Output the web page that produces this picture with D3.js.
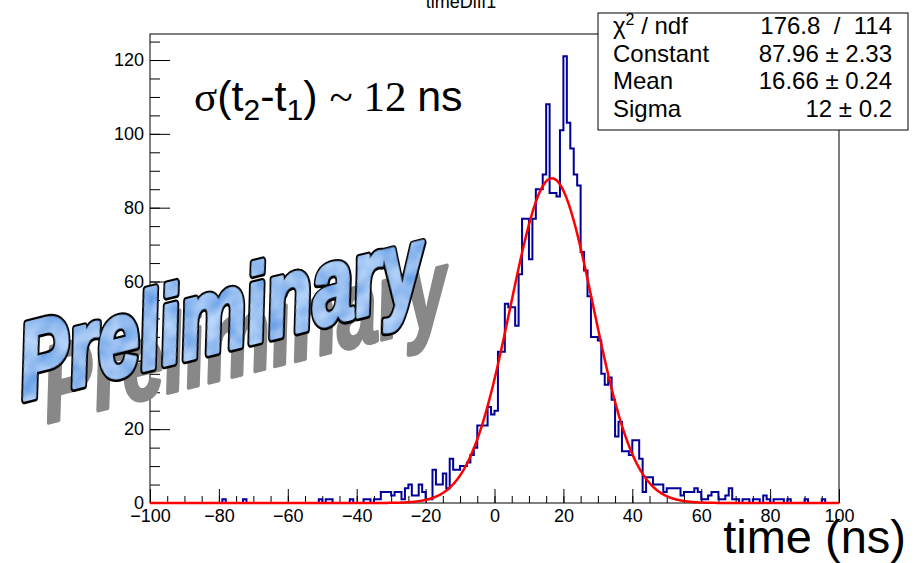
<!DOCTYPE html>
<html>
<head>
<meta charset="utf-8">
<script src="https://cdn.jsdelivr.net/npm/d3@7"></script>
<style>
	body { margin: 0; background: #fff; }
	svg { display: block; font-family: 'Liberation Sans', Arial, sans-serif; }
</style>
</head>
<body>
<script>
/* Histogram timeDiff1: counts per 1 ns bin, from -100 ns up to 100 ns. */
const binLow = -100;
const binWidth = 1;
const counts = [
	0, 0, 0, 0, 0, 0, 0, 0, 0, 0, 0, 0, 0, 0, 0, 0, 0, 0, 0, 0,          // -100 .. -81
	0, 1, 0, 0, 0, 0, 0, 1, 0, 0, 0, 0, 0, 0, 0, 0, 0, 0, 0, 0,          // -80 .. -61
	0, 0, 0, 0, 0, 0, 0, 0, 0, 1, 0, 1, 1, 0, 0, 0, 0, 0, 1, 0,          // -60 .. -41
	0, 0, 1, 1, 0, 1, 1, 3, 3, 3, 2, 3, 3, 1, 4, 5, 2, 2, 5, 3,          // -40 .. -21
	1, 1, 9, 5, 5, 8, 4, 12, 9, 9, 10, 10, 11, 13, 15, 21, 21, 21, 26, 24, // -20 .. -1
	25, 41, 41, 54, 53, 53, 48, 62, 77, 77, 66, 77, 85, 85, 89, 108, 84, 84, 83, 101, // 0 .. 19
	121, 103, 96, 89, 86, 68, 63, 56, 45, 45, 44, 35, 32, 34, 28, 18, 22, 14, 14, 13, // 20 .. 39
	17, 17, 12, 3, 7, 7, 5, 5, 5, 3, 4, 4, 4, 4, 2, 3, 3, 3, 4, 3,       // 40 .. 59
	1, 1, 2, 3, 3, 1, 1, 2, 4, 1, 1, 0, 1, 1, 0, 1, 1, 0, 2, 1,          // 60 .. 79
	0, 1, 1, 1, 0, 1, 0, 0, 0, 0, 1, 0, 0, 0, 0, 1, 0, 0, 0, 0           // 80 .. 99
];

/* Gaussian fit result, as printed in the stats box. */
const fitConstant = 87.96;
const fitMean = 16.66;
const fitSigma = 12;

/* Stats box rows. */
const statLabels = ['χ2 / ndf', 'Constant', 'Mean', 'Sigma'];
const statValues = ['176.8  /  114', '87.96 \u00b1 2.33', '16.66 \u00b1 0.24', '12 \u00b1 0.2'];

/* Axis settings. */
const xDomain = [-100, 100];
const yMax = 127.05;
const xMajorTicks = d3.range(-100, 101, 20);
const xMinorTicks = d3.range(-100, 101, 5);
const yMajorTicks = d3.range(0, 121, 20);
const yMinorTicks = d3.range(0, 126, 5);

const plotTitle = 'timeDiff1';
const xTitle = 'time (ns)';
const watermark = 'Preliminary';

/* Frame in pixels. */
const frame = { left: 150, right: 839, top: 34, bottom: 503 };

/**
 * Gaussian function of the fit.
 */
function gaus(t) {
	let z = (t - fitMean) / fitSigma;
	return fitConstant * Math.exp(-0.5 * z * z);
}

/**
 * Creates the svg element.
 */
function createSvg() {
	return d3.select('body').append('svg')
		.attr('width', 919)
		.attr('height', 563);
}

/**
 * Draws the axes and the frame.
 */
function drawAxes(svg, xScale, yScale) {
	/* Minor ticks. */
	svg.append('g')
		.attr('transform', 'translate(0,' + frame.bottom + ')')
		.call(d3.axisBottom(xScale).tickValues(xMinorTicks).tickSize(-7).tickFormat(''))
		.call(g => g.select('.domain').remove());
	svg.append('g')
		.attr('transform', 'translate(' + frame.left + ',0)')
		.call(d3.axisLeft(yScale).tickValues(yMinorTicks).tickSize(-10).tickFormat(''))
		.call(g => g.select('.domain').remove());

	/* Major ticks with labels. */
	svg.append('g')
		.attr('class', 'x-axis')
		.attr('transform', 'translate(0,' + frame.bottom + ')')
		.call(d3.axisBottom(xScale).tickValues(xMajorTicks).tickSize(-14).tickPadding(6)
			.tickFormat(d3.format('d')))
		.call(g => g.select('.domain').remove());
	svg.append('g')
		.attr('class', 'y-axis')
		.attr('transform', 'translate(' + frame.left + ',0)')
		.call(d3.axisLeft(yScale).tickValues(yMajorTicks).tickSize(-20).tickPadding(6)
			.tickFormat(d3.format('d')))
		.call(g => g.select('.domain').remove());

	svg.selectAll('.tick line').attr('stroke', '#000');
	svg.selectAll('.x-axis text, .y-axis text')
		.attr('font-family', "'Liberation Sans', Arial, sans-serif")
		.attr('font-size', 18)
		.attr('fill', '#000');

	/* Frame. */
	svg.append('rect')
		.attr('x', frame.left)
		.attr('y', frame.top)
		.attr('width', frame.right - frame.left)
		.attr('height', frame.bottom - frame.top)
		.attr('fill', 'none')
		.attr('stroke', '#000')
		.attr('stroke-width', 1);
}

/**
 * Draws the histogram and the fitted gaussian.
 */
function drawHistogram(svg, xScale, yScale) {
	let points = counts.map(function(count, index) {
		return [xScale(binLow + index * binWidth), yScale(count)];
	});
	points.push([xScale(binLow + counts.length * binWidth), yScale(counts[counts.length - 1])]);

	svg.append('path')
		.attr('d', d3.line().curve(d3.curveStepAfter)(points))
		.attr('fill', 'none')
		.attr('stroke', '#000099')
		.attr('stroke-width', 2);

	let fitPoints = d3.range(xDomain[0], xDomain[1] + 0.01, 0.25).map(function(t) {
		return [xScale(t), yScale(gaus(t))];
	});
	svg.append('path')
		.attr('d', d3.line()(fitPoints))
		.attr('fill', 'none')
		.attr('stroke', '#ff0000')
		.attr('stroke-width', 2.5);
}

/**
 * Draws the titles and the sigma label.
 */
function drawTexts(svg) {
	svg.append('text')
		.attr('x', 461)
		.attr('y', 8)
		.attr('text-anchor', 'middle')
		.attr('font-size', 18)
		.text(plotTitle);

	svg.append('text')
		.attr('x', 906)
		.attr('y', 553)
		.attr('text-anchor', 'end')
		.attr('font-size', 47)
		.text(xTitle);

	let label = svg.append('text')
		.attr('x', 194)
		.attr('y', 111)
		.attr('font-size', 43);
	label.append('tspan').attr('font-family', "'Liberation Serif', serif").text('σ');
	label.append('tspan').text('(t');
	label.append('tspan').attr('font-size', 30).attr('dy', 9).text('2');
	label.append('tspan').attr('dy', -9).text('-t');
	label.append('tspan').attr('font-size', 30).attr('dy', 9).text('1');
	label.append('tspan').attr('dy', -9).text(') ');
	label.append('tspan').attr('font-family', "'Liberation Serif', serif").text('~ 12 ');
	label.append('tspan').text('ns');
}

/**
 * Draws the fit stats box.
 */
function drawStats(svg) {
	const box = { x: 598, y: 13, width: 310, height: 117 };
	svg.append('rect')
		.attr('x', box.x)
		.attr('y', box.y)
		.attr('width', box.width)
		.attr('height', box.height)
		.attr('fill', '#fff')
		.attr('stroke', '#000')
		.attr('stroke-width', 1);

	statLabels.forEach(function(label, index) {
		let y = 34 + index * 27.7;
		let text = svg.append('text')
			.attr('x', 613)
			.attr('y', y)
			.attr('font-size', 24);
		if (index === 0) {
			text.append('tspan').text('χ');
			text.append('tspan').attr('font-size', 16).attr('dy', -9).text('2');
			text.append('tspan').attr('dy', 9).text(' / ndf');
		} else {
			text.text(label);
		}
		svg.append('text')
			.attr('x', 892)
			.attr('y', y)
			.attr('text-anchor', 'end')
			.attr('font-size', 24)
			.style('white-space', 'pre')
			.text(statValues[index]);
	});
}

/**
 * Draws the tilted "Preliminary" stamp with its shadow.
 */
function drawWatermark(svg) {
	let defs = svg.append('defs');
	let filter = defs.append('filter')
		.attr('id', 'water')
		.attr('x', '-5%').attr('y', '-5%')
		.attr('width', '110%').attr('height', '110%');
	filter.append('feTurbulence')
		.attr('type', 'fractalNoise')
		.attr('baseFrequency', '0.035 0.05')
		.attr('numOctaves', 2)
		.attr('seed', 7)
		.attr('result', 'noise');
	filter.append('feColorMatrix')
		.attr('in', 'noise')
		.attr('type', 'matrix')
		.attr('values', '0.6 0 0 0 0.02  0.55 0 0 0 0.25  0.25 0 0 0 0.76  0 0 0 0 1')
		.attr('result', 'tint');
	filter.append('feComposite')
		.attr('in', 'tint')
		.attr('in2', 'SourceGraphic')
		.attr('operator', 'in');

	let transform = function(x, y) {
		return 'translate(' + x + ',' + y + ') rotate(-14) skewX(-8) scale(0.72,1)';
	};
	let style = function(text) {
		text.attr('font-size', 106)
			.attr('font-weight', 'bold')
			.attr('font-style', 'italic')
			.attr('stroke-linejoin', 'round')
			.text(watermark);
	};

	/* Shadow. */
	svg.append('text')
		.attr('transform', transform(47, 423))
		.attr('fill', '#888')
		.attr('stroke', '#888')
		.attr('stroke-width', 4)
		.call(style);

	/* Black outline, then the blue water fill on top. */
	svg.append('text')
		.attr('transform', transform(23, 400))
		.attr('fill', '#000')
		.attr('stroke', '#000')
		.attr('stroke-width', 9)
		.call(style);
	svg.append('text')
		.attr('transform', transform(23, 400))
		.attr('fill', '#5a8de2')
		.attr('stroke', '#5a8de2')
		.attr('stroke-width', 4)
		.attr('filter', 'url(#water)')
		.call(style);
}

/**
 * Runs the program.
 */
function main() {
	let svg = createSvg();
	svg.append('rect').attr('width', 919).attr('height', 563).attr('fill', '#fff');

	let xScale = d3.scaleLinear().domain(xDomain).range([frame.left, frame.right]);
	let yScale = d3.scaleLinear().domain([0, yMax]).range([frame.bottom, frame.top]);

	drawAxes(svg, xScale, yScale);
	drawHistogram(svg, xScale, yScale);
	drawTexts(svg);
	drawWatermark(svg);
	drawStats(svg);
}

main();
</script>
</body>
</html>
